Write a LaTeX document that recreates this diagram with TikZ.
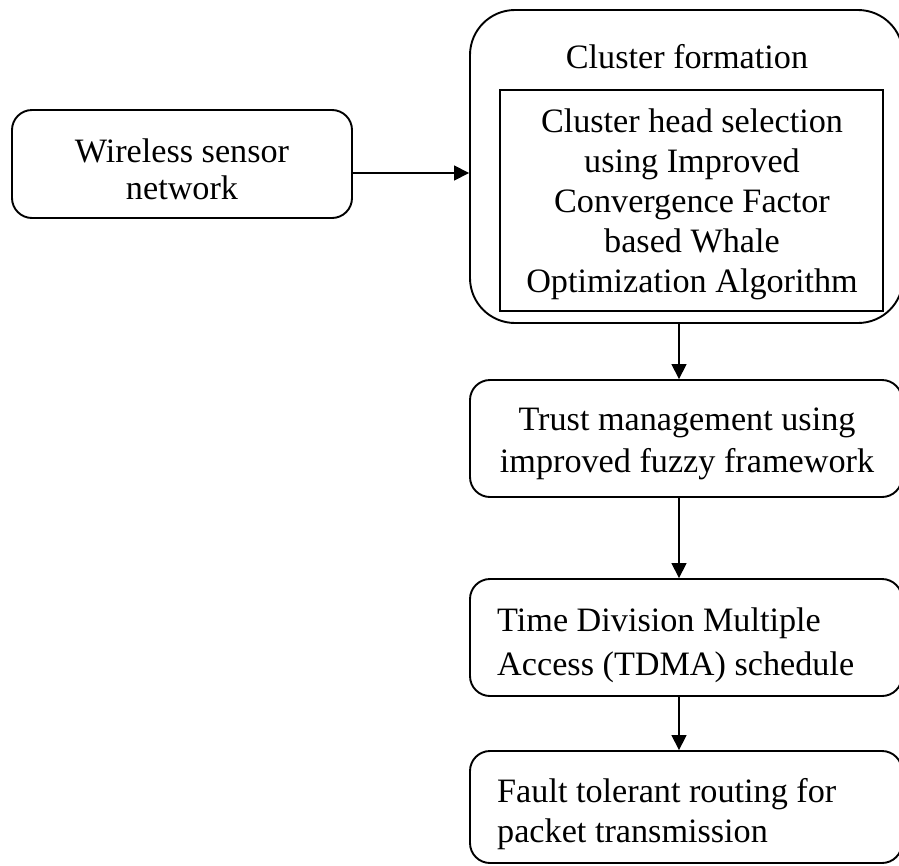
\documentclass[tikz,border=0pt]{standalone}
\usepackage{fontspec}
\setmainfont{Liberation Serif}
\usetikzlibrary{arrows.meta}
\begin{document}
\begin{tikzpicture}[x=1pt,y=-1pt,
  every node/.style={font=\fontsize{34.2}{40}\selectfont, inner sep=0pt},
  box/.style={draw, line width=1.9pt, rounded corners=20pt},
  bigbox/.style={draw, line width=1.9pt, rounded corners=45pt},
  innerbox/.style={draw, line width=1.9pt},
  lbl/.style={anchor=base, align=center},
  lbll/.style={anchor=base west, align=left},
  skip/.style={font=\fontsize{34.2}{#1}\selectfont},
  flow/.style={line width=1.6pt, -{Triangle[length=15pt,width=15pt]}}]
\useasboundingbox (0,0) rectangle (899,865);

% process boxes (the right-hand column runs just past the page edge)
\node[box, minimum width=340pt, minimum height=108pt] (wsn) at (182,164) {};
\node[bigbox, minimum width=433pt, minimum height=313pt] (cf) at (686.5,166.5) {};
\node[innerbox, minimum width=383pt, minimum height=221pt] (ch) at (691.5,200.5) {};
\node[box, minimum width=432pt, minimum height=117pt] (tm) at (686,438.5) {};
\node[box, minimum width=432pt, minimum height=117pt] (td) at (686,637.5) {};
\node[box, minimum width=432pt, minimum height=112pt] (ft) at (686,807) {};

% box texts, placed by the baseline of their last line
\node[lbl, skip=37] (wsnt) at (182,199) {Wireless sensor\\network};
\node[lbl] (cft) at (687,68) {Cluster formation};
\node[lbl] (cht) at (692,292) {Cluster head selection\\using Improved\\Convergence Factor\\based Whale\\Optimization Algorithm};
\node[lbl, skip=42] (tmt) at (687,472) {Trust management using\\improved fuzzy framework};
\node[lbll, skip=44] (tdt) at (497,675) {Time Division Multiple\\Access (TDMA) schedule};
\node[lbll, skip=40] (ftt) at (497,842) {Fault tolerant routing for\\packet transmission};

% connectors
\draw[flow] (wsn.east |- 0,173) -- (cf.west |- 0,173);
\draw[flow] (cf.south -| 679,0) -- (tm.north -| 679,0);
\draw[flow] (tm.south -| 679,0) -- (td.north -| 679,0);
\draw[flow] (td.south -| 679,0) -- (ft.north -| 679,0);
\end{tikzpicture}
\end{document}
